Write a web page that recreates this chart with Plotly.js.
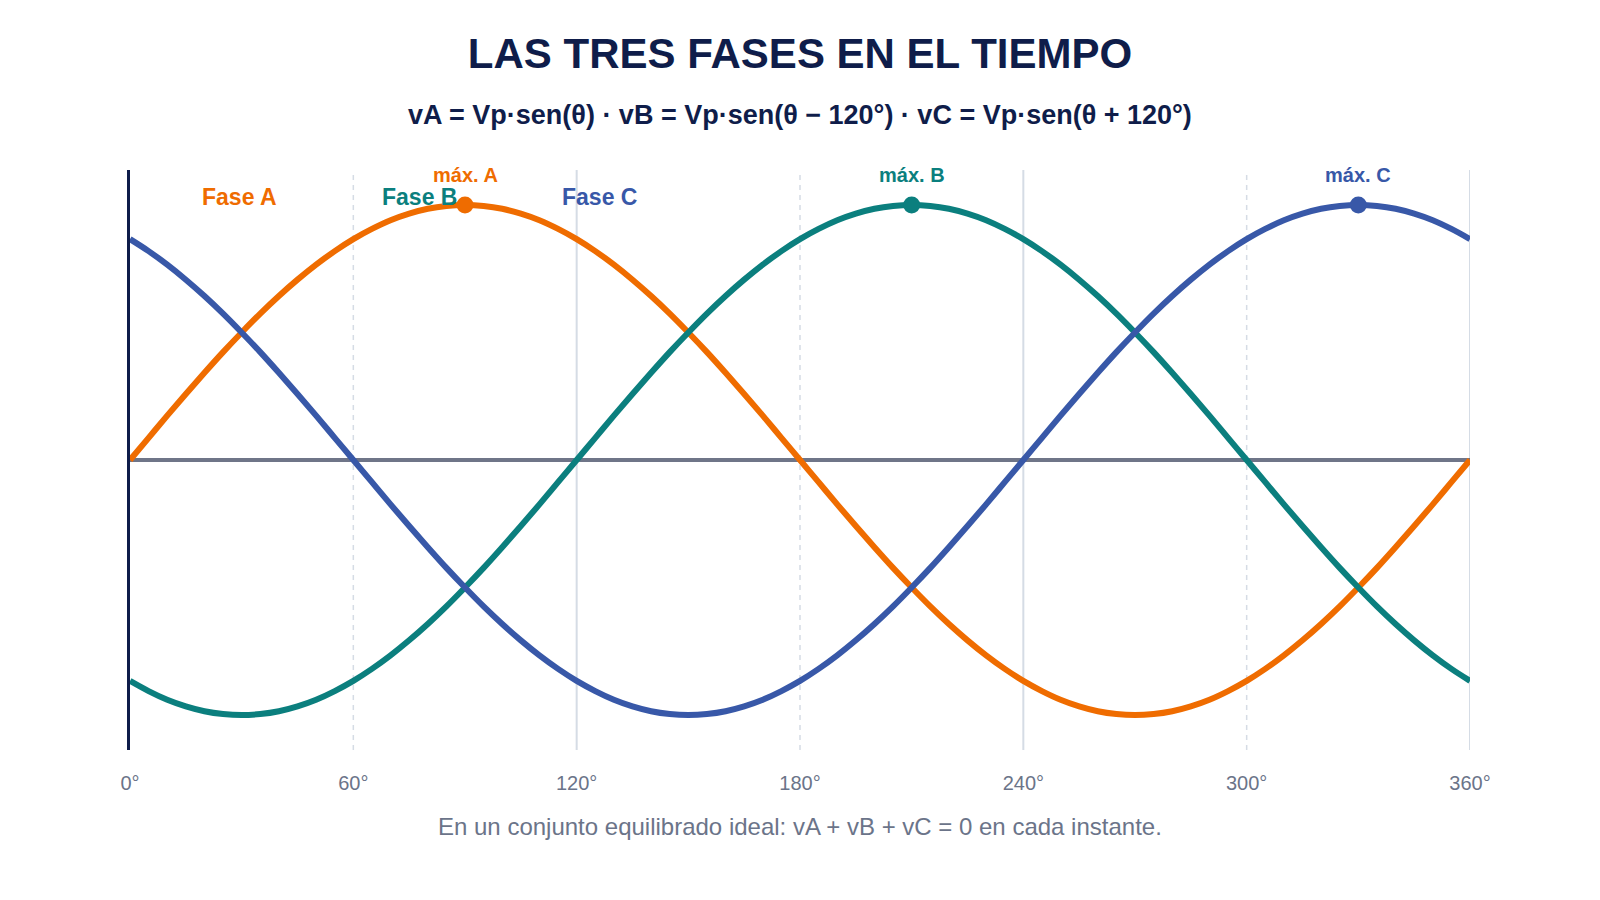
<!DOCTYPE html>
<html>
<head>
<meta charset="utf-8">
<script src="https://cdn.plot.ly/plotly-3.0.1.min.js"></script>
<style>
  html, body { margin: 0; padding: 0; background: #fff; }
  #chart { width: 1600px; height: 900px; }
</style>
</head>
<body>
<div id="chart"></div>
<script>
// -----------------------
// Datos (cada 5°)
// -----------------------
const angulos = [0,5,10,15,20,25,30,35,40,45,50,55,60,65,70,75,80,85,90,
  95,100,105,110,115,120,125,130,135,140,145,150,155,160,165,170,175,180,
  185,190,195,200,205,210,215,220,225,230,235,240,245,250,255,260,265,270,
  275,280,285,290,295,300,305,310,315,320,325,330,335,340,345,350,355,360];

const faseA = [0,.087,.174,.259,.342,.423,.5,.574,.643,.707,.766,.819,.866,.906,.94,.966,.985,.996,1,
  .996,.985,.966,.94,.906,.866,.819,.766,.707,.643,.574,.5,.423,.342,.259,.174,.087,0,
  -.087,-.174,-.259,-.342,-.423,-.5,-.574,-.643,-.707,-.766,-.819,-.866,-.906,-.94,-.966,-.985,-.996,-1,
  -.996,-.985,-.966,-.94,-.906,-.866,-.819,-.766,-.707,-.643,-.574,-.5,-.423,-.342,-.259,-.174,-.087,0];

const faseB = [-.866,-.906,-.94,-.966,-.985,-.996,-1,-.996,-.985,-.966,-.94,-.906,-.866,-.819,-.766,-.707,-.643,-.574,-.5,
  -.423,-.342,-.259,-.174,-.087,0,.087,.174,.259,.342,.423,.5,.574,.643,.707,.766,.819,.866,
  .906,.94,.966,.985,.996,1,.996,.985,.966,.94,.906,.866,.819,.766,.707,.643,.574,.5,
  .423,.342,.259,.174,.087,0,-.087,-.174,-.259,-.342,-.423,-.5,-.574,-.643,-.707,-.766,-.819,-.866];

const faseC = [.866,.819,.766,.707,.643,.574,.5,.423,.342,.259,.174,.087,0,-.087,-.174,-.259,-.342,-.423,-.5,
  -.574,-.643,-.707,-.766,-.819,-.866,-.906,-.94,-.966,-.985,-.996,-1,-.996,-.985,-.966,-.94,-.906,-.866,
  -.819,-.766,-.707,-.643,-.574,-.5,-.423,-.342,-.259,-.174,-.087,0,.087,.174,.259,.342,.423,.5,
  .574,.643,.707,.766,.819,.866,.906,.94,.966,.985,.996,1,.996,.985,.966,.94,.906,.866];

const nombres = ["Fase A", "Fase B", "Fase C"];
const maxX = [90, 210, 330];
const maxY = [1, 1, 1];
const maxTxt = ["máx. A", "máx. B", "máx. C"];

const ticksX = [0, 60, 120, 180, 240, 300, 360];
const ticksTxt = ["0°", "60°", "120°", "180°", "240°", "300°", "360°"];
const gridSolida = [120, 240, 360];
const gridPunteada = [60, 180, 300];

// -----------------------
// Estilo
// -----------------------
const COLORES = ["#EF6C00", "#0B7F7E", "#3858A8"];
const NAVY = "#0F1D4A";
const GRIS = "#6B7489";
const FUENTE = "Liberation Sans, Arial, sans-serif";

const series = [faseA, faseB, faseC];

const traces = series.map((ys, i) => ({
  x: angulos,
  y: ys,
  type: "scatter",
  mode: "lines",
  name: nombres[i],
  line: { color: COLORES[i], width: 6, shape: "spline", smoothing: 1 },
  hoverinfo: "skip"
}));

traces.push({
  x: maxX,
  y: maxY,
  type: "scatter",
  mode: "markers",
  marker: { color: COLORES, size: 17 },
  hoverinfo: "skip"
});

// Líneas de rejilla verticales
const shapes = [];
gridPunteada.forEach(v => shapes.push({
  type: "line", xref: "x", yref: "paper", x0: v, x1: v, y0: 0, y1: 1,
  line: { color: "#D5DCE5", width: 1.5, dash: "5px,5px" }, layer: "below"
}));
gridSolida.forEach(v => shapes.push({
  type: "line", xref: "x", yref: "paper", x0: v, x1: v, y0: 0, y1: 1,
  line: { color: "#D5DCE5", width: 2 }, layer: "below"
}));

// Anotaciones
const annotations = [];
const faseLblX = [0.0817, 0.216, 0.35];
nombres.forEach((n, i) => annotations.push({
  xref: "paper", yref: "y", x: faseLblX[i], y: 1.031, xanchor: "center",
  text: "<b>" + n + "</b>", showarrow: false,
  font: { family: FUENTE, size: 23, color: COLORES[i] }
}));
maxTxt.forEach((t, i) => annotations.push({
  xref: "x", yref: "y", x: maxX[i], y: maxY[i], xanchor: "center",
  text: "<b>" + t + "</b>", showarrow: false, yshift: 30,
  font: { family: FUENTE, size: 20, color: COLORES[i] }
}));
annotations.push({
  xref: "paper", yref: "paper", x: 0.5, y: 1.095, xanchor: "center", yanchor: "middle",
  text: "<b>vA = Vp·sen(θ) · vB = Vp·sen(θ − 120°) · vC = Vp·sen(θ + 120°)</b>",
  showarrow: false, font: { family: FUENTE, size: 27, color: NAVY }
});
annotations.push({
  xref: "paper", yref: "paper", x: 0.5, y: -0.132, xanchor: "center", yanchor: "middle",
  text: "En un conjunto equilibrado ideal: vA + vB + vC = 0 en cada instante.",
  showarrow: false, font: { family: FUENTE, size: 24, color: GRIS }
});

const layout = {
  width: 1600,
  height: 900,
  margin: { l: 130, r: 130, t: 170, b: 150 },
  paper_bgcolor: "#ffffff",
  plot_bgcolor: "#ffffff",
  showlegend: false,
  font: { family: FUENTE },
  title: {
    text: "<b>LAS TRES FASES EN EL TIEMPO</b>",
    x: 0.5, xref: "paper", y: 0.941, yref: "container", yanchor: "middle",
    font: { family: FUENTE, size: 42, color: NAVY }
  },
  xaxis: {
    range: [0, 360],
    tickvals: ticksX,
    ticktext: ticksTxt,
    showgrid: false,
    zeroline: false,
    showline: false,
    ticks: "",
    ticklabelstandoff: 19,
    tickfont: { family: FUENTE, size: 20, color: GRIS }
  },
  yaxis: {
    range: [-1.137, 1.137],
    showgrid: false,
    showticklabels: false,
    ticks: "",
    zeroline: true,
    zerolinecolor: "#6F7588",
    zerolinewidth: 3.5,
    showline: true,
    linecolor: NAVY,
    linewidth: 3
  },
  shapes: shapes,
  annotations: annotations
};

Plotly.newPlot("chart", traces, layout, { displayModeBar: false, staticPlot: true });
</script>
</body>
</html>
